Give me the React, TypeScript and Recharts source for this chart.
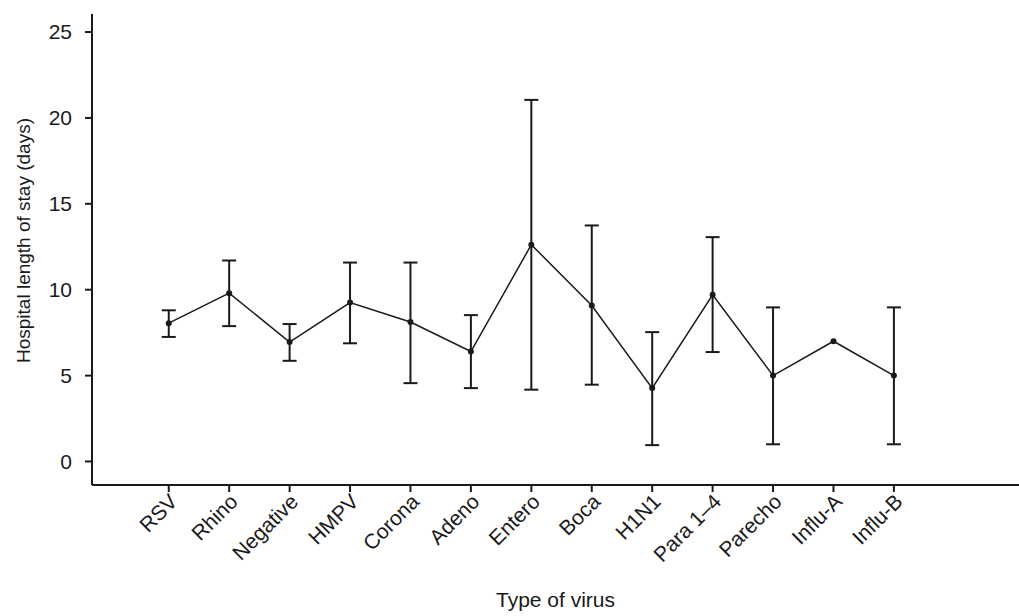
import { ErrorBar, Label, Line, LineChart, XAxis, YAxis } from 'recharts';

const virusLabels = ['RSV', 'Rhino', 'Negative', 'HMPV', 'Corona', 'Adeno', 'Entero', 'Boca', 'H1N1', 'Para 1–4', 'Parecho', 'Influ-A', 'Influ-B'];
const meanDays = [8.05, 9.8, 6.95, 9.25, 8.12, 6.4, 12.62, 9.08, 4.27, 9.7, 5.0, 7.0, 5.0];
const lowerCI = [7.25, 7.88, 5.86, 6.88, 4.56, 4.27, 4.18, 4.47, 0.95, 6.37, 1.0, null, 1.0];
const upperCI = [8.8, 11.7, 8.0, 11.58, 11.58, 8.52, 21.05, 13.74, 7.53, 13.06, 8.97, null, 8.97];
const yTicks = [0, 5, 10, 15, 20, 25];

const data = virusLabels.map((name, i) => ({
  idx: i,
  name,
  mean: meanDays[i],
  ci: lowerCI[i] == null ? null : [meanDays[i] - (lowerCI[i] as number), (upperCI[i] as number) - meanDays[i]]
}));

const ink = '#1a1a1a';
const font = '"Liberation Sans", Arial, sans-serif';

function VirusTick(props: any) {
  const { x, y, payload } = props;
  return (
    <g transform={`translate(${x + 5},${y + 4})`}>
      <text x={0} y={0} textAnchor="end" transform="rotate(-45)" fill={ink} fontSize={21} fontFamily={font} dy={7}>
        {virusLabels[payload.value]}
      </text>
    </g>
  );
}

export default function App() {
  return (
    <div style={{ position: 'absolute', left: 0, top: 0, background: '#fff' }}>
      <LineChart width={1019} height={616} data={data} margin={{ top: 14, right: 0, left: 0, bottom: 0 }}>
        <XAxis
          type="number"
          dataKey="idx"
          domain={[-1.27, 14.07]}
          ticks={virusLabels.map((_, i) => i)}
          interval={0}
          allowDataOverflow
          height={131}
          tickSize={7}
          stroke={ink}
          strokeWidth={2}
          tick={<VirusTick />}
        >
          <Label value="Type of virus" position="insideBottom" offset={9} fill={ink} fontSize={21} fontFamily={font} />
        </XAxis>
        <YAxis
          type="number"
          domain={[-1.37, 26.05]}
          ticks={yTicks}
          allowDataOverflow
          width={92}
          tickSize={7}
          tickMargin={13}
          stroke={ink}
          strokeWidth={2}
          tick={{ fill: ink, fontSize: 21, fontFamily: font }}
        >
          <Label
            value="Hospital length of stay (days)"
            angle={-90}
            position="insideLeft"
            offset={23}
            dy={-9}
            style={{ textAnchor: 'middle' }}
            fill={ink}
            fontSize={19}
            fontFamily={font}
          />
        </YAxis>
        <Line
          type="linear"
          dataKey="mean"
          stroke={ink}
          strokeWidth={1.5}
          dot={{ r: 3, fill: ink, stroke: ink, strokeWidth: 0 }}
          activeDot={false}
          isAnimationActive={false}
        >
          <ErrorBar dataKey="ci" width={7} stroke={ink} strokeWidth={2} direction="y" isAnimationActive={false} />
        </Line>
      </LineChart>
    </div>
  );
}
